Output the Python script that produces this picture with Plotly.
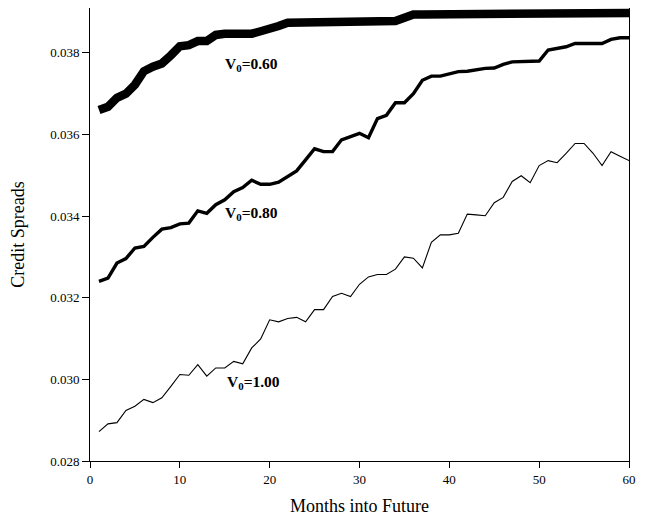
import plotly.graph_objects as go

months = list(range(1, 61))

v060 = [0.03660, 0.03668, 0.03690, 0.03700, 0.03722, 0.03755, 0.03766, 0.03774, 0.03794, 0.03816,
        0.03819, 0.03829, 0.03829, 0.03844, 0.03847, 0.03847, 0.03847, 0.03847, 0.03853, 0.03857,
        0.03866, 0.03874, 0.03874, 0.03874, 0.03874, 0.03874, 0.03874, 0.03874, 0.03874, 0.03876,
        0.03878, 0.03878, 0.03878, 0.03878, 0.03886, 0.03894, 0.03894, 0.03894, 0.03894, 0.03894,
        0.03894, 0.03894, 0.03894, 0.03894, 0.03894, 0.03894, 0.03894, 0.03894, 0.03894, 0.03894,
        0.03894, 0.03894, 0.03894, 0.03894, 0.03894, 0.03896, 0.03898, 0.03898, 0.03898, 0.03898]

v080 = [0.03240, 0.03248, 0.03285, 0.03296, 0.03322, 0.03326, 0.03348, 0.03368, 0.03372, 0.03381,
        0.03383, 0.03413, 0.03407, 0.03428, 0.03440, 0.03460, 0.03470, 0.03488, 0.03478, 0.03478,
        0.03483, 0.03497, 0.03511, 0.03538, 0.03565, 0.03558, 0.03558, 0.03587, 0.03596, 0.03603,
        0.03592, 0.03639, 0.03647, 0.03678, 0.03678, 0.03700, 0.03733, 0.03743, 0.03743, 0.03749,
        0.03754, 0.03755, 0.03759, 0.03762, 0.03763, 0.03772, 0.03778, 0.03778, 0.03778, 0.03780,
        0.03807, 0.03811, 0.03815, 0.03823, 0.03823, 0.03823, 0.03823, 0.03833, 0.03837, 0.03837]

v100 = [0.02872, 0.02891, 0.02894, 0.02924, 0.02934, 0.02951, 0.02943, 0.02955, 0.02983, 0.03012,
        0.03010, 0.03036, 0.03008, 0.03028, 0.03028, 0.03044, 0.03038, 0.03077, 0.03099, 0.03146,
        0.03141, 0.03149, 0.03152, 0.03141, 0.03171, 0.03171, 0.03203, 0.03211, 0.03203, 0.03233,
        0.03251, 0.03257, 0.03257, 0.03270, 0.03300, 0.03297, 0.03273, 0.03336, 0.03354, 0.03354,
        0.03358, 0.03405, 0.03403, 0.03401, 0.03433, 0.03446, 0.03485, 0.03499, 0.03482, 0.03524,
        0.03536, 0.03531, 0.03554, 0.03578, 0.03578, 0.03554, 0.03524, 0.03558, 0.03547, 0.03536]

series_names = ["V0=0.60", "V0=0.80", "V0=1.00"]
label_texts = ["<b>V<sub>0</sub>=0.60</b>", "<b>V<sub>0</sub>=0.80</b>", "<b>V<sub>0</sub>=1.00</b>"]
label_x = [18.0, 18.0, 18.2]
label_y = [0.03771, 0.03406, 0.02993]

x_ticks = [0, 10, 20, 30, 40, 50, 60]
y_ticks = [0.028, 0.030, 0.032, 0.034, 0.036, 0.038]

font_family = "Liberation Serif, Times New Roman, serif"

fig = go.Figure()
for vals, name, w in zip([v060, v080, v100], series_names, [8.5, 3.4, 1.1]):
    fig.add_trace(go.Scatter(x=months, y=vals, mode="lines", name=name,
                             line=dict(color="black", width=w, shape="linear"),
                             showlegend=False, cliponaxis=False))

for t, lx, ly in zip(label_texts, label_x, label_y):
    fig.add_annotation(x=lx, y=ly, text=t, showarrow=False,
                       font=dict(family=font_family, size=15.5, color="black"))

# page body has an 8px default margin; margins below compensate for it
fig.update_layout(
    width=647, height=518,
    margin=dict(l=82, r=26, t=0, b=65, autoexpand=False),
    paper_bgcolor="white", plot_bgcolor="white",
    font=dict(family=font_family, color="black", size=13),
)
fig.update_xaxes(range=[0, 60], tickvals=x_ticks, ticktext=[str(v) for v in x_ticks],
                 showgrid=False, zeroline=False, showline=True, linecolor="black",
                 linewidth=1, mirror=True, ticks="outside", ticklen=6, tickcolor="black",
                 tickfont=dict(size=13),
                 title=dict(text="Months into Future", font=dict(size=18), standoff=13))
fig.update_yaxes(range=[0.028, 0.0391], tickvals=y_ticks, ticktext=["%.3f" % v for v in y_ticks],
                 showgrid=False, zeroline=False, showline=True, linecolor="black",
                 linewidth=1, mirror=True, ticks="outside", ticklen=7, tickcolor="black",
                 tickfont=dict(size=13),
                 title=dict(text="Credit Spreads", font=dict(size=18), standoff=21))

fig.write_html("out.html")
